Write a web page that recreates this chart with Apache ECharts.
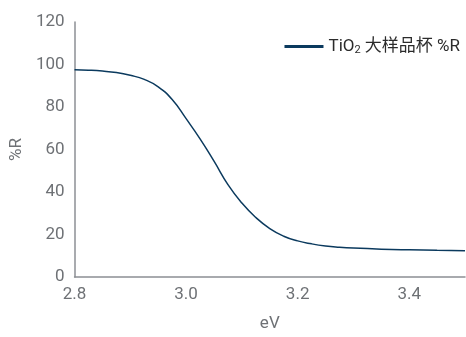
<!DOCTYPE html>
<html><head><meta charset="utf-8">
<script src="https://cdn.jsdelivr.net/npm/echarts@6/dist/echarts.min.js"></script>
<style>html,body{margin:0;padding:0;background:#fff}#c{width:466px;height:337px}</style>
</head><body><div id="c"></div>
<script>
const ev = [2.80,2.825,2.85,2.875,2.90,2.925,2.95,2.975,3.00,3.025,3.05,3.075,3.10,3.125,3.15,3.175,3.20,3.225,3.25,3.275,3.30,3.35,3.40,3.45,3.50];
const reflectance = [97.5,97.3,96.9,96.2,94.9,93.0,89.5,83.5,74.5,65.0,54.5,43.5,34.8,28.0,22.8,19.2,17.0,15.6,14.6,14.0,13.6,13.1,12.8,12.6,12.4];
const seriesName = 'TiO2 大样品杯 %R';
const xTicks = {min: 2.8, max: 3.5, interval: 0.2};
const yTicks = {min: 0, max: 120, interval: 20};

const textColor = '#6e7175';
const font = 'Roboto, "Noto Sans CJK SC", sans-serif';
const chart = echarts.init(document.getElementById('c'), null, {renderer: 'canvas'});
chart.setOption({
  animation: false,
  textStyle: {fontFamily: font},
  grid: {left: 74, right: 1, top: 22, bottom: 53, containLabel: false},
  legend: {
    right: 1, top: 33, icon: 'rect', itemWidth: 39, itemHeight: 3, itemGap: 6,
    data: [seriesName],
    formatter: () => '{a|TiO}{s|2}{a| 大样品杯 %R}',
    textStyle: {
      rich: {
        a: {fontSize: 17, color: '#2b2b2b', fontFamily: font},
        s: {fontSize: 11, color: '#2b2b2b', fontFamily: font, padding: [8,0,0,0]}
      }
    }
  },
  xAxis: {
    type: 'value', min: xTicks.min, max: xTicks.max, interval: xTicks.interval,
    name: 'eV', nameLocation: 'middle', nameGap: 38,
    nameTextStyle: {fontSize: 17, color: textColor, fontFamily: font},
    axisLine: {show: true, lineStyle: {color: '#8c8f94', width: 1.5}},
    axisTick: {show: false}, splitLine: {show: false},
    axisLabel: {fontSize: 17, color: textColor, margin: 9, showMaxLabel: false, fontFamily: font,
      formatter: v => v.toFixed(1)}
  },
  yAxis: {
    type: 'value', min: yTicks.min, max: yTicks.max, interval: yTicks.interval,
    name: '%R', nameLocation: 'middle', nameGap: 48, nameRotate: 90,
    nameTextStyle: {fontSize: 17, color: textColor, fontFamily: font},
    axisLine: {show: true, lineStyle: {color: '#8c8f94', width: 1.5}},
    axisTick: {show: false}, splitLine: {show: false},
    axisLabel: {fontSize: 17, color: textColor, margin: 10, fontFamily: font}
  },
  series: [{
    name: seriesName, type: 'line', smooth: true, showSymbol: false,
    lineStyle: {color: '#0b3a5e', width: 1.5}, itemStyle: {color: '#0b3a5e'},
    data: ev.map((x, i) => [x, reflectance[i]])
  }]
});
</script></body></html>
